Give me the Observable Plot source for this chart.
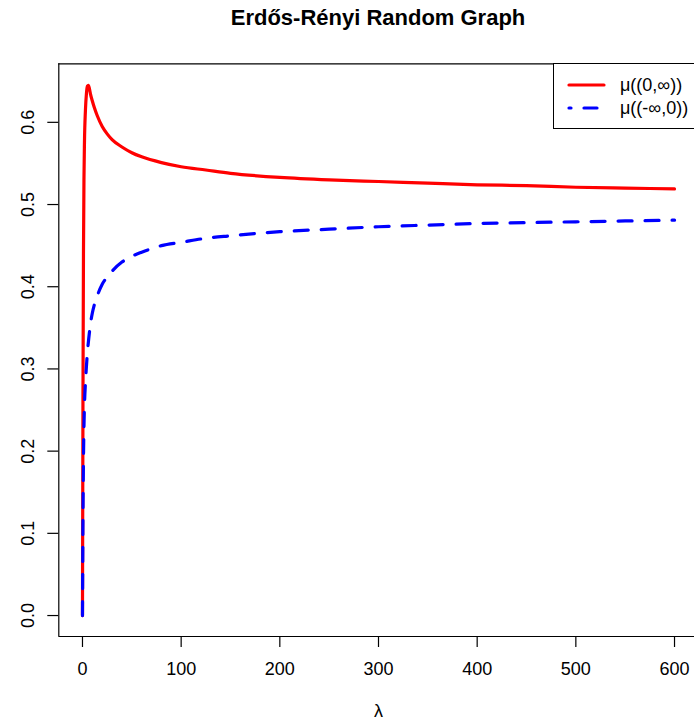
<!DOCTYPE html>
<html>
<head>
<meta charset="utf-8">
<script src="https://cdn.jsdelivr.net/npm/d3@7"></script>
<script src="https://cdn.jsdelivr.net/npm/@observablehq/plot@0.6"></script>
<style>
  html, body { margin: 0; padding: 0; background: #fff; overflow: hidden; }
  #wrap { position: relative; width: 694px; height: 725px; overflow: hidden; font-family: "Liberation Sans", Arial, sans-serif; }
  #title { margin: 0 0 0 58px; width: 640px; height: 40px; line-height: 36px; text-align: center; font-weight: bold; font-size: 22px; color: #000; }
  #legend { position: absolute; left: 553px; top: 63px; width: 160px; height: 66px; border: 1.2px solid #000; background: #fff; box-sizing: border-box; }
  #legend svg { position: absolute; left: 0; top: 0; }
</style>
</head>
<body>
<div id="wrap">
  <div id="title">Erdős-Rényi Random Graph</div>
  <div id="chart"></div>
  <div id="legend"></div>
</div>
<script>
// λ values and the two series
const lambda = [0,0.5,1,1.5,2,3,4,5,6,7,8,10,12,15,20,25,30,40,50,60,80,100,125,150,200,250,300,350,400,450,500,550,600];
const muPos  = [0,0.27,0.44,0.53,0.575,0.615,0.635,0.644,0.645,0.641,0.635,0.626,0.618,0.608,0.595,0.586,0.579,0.570,0.563,0.558,0.551,0.546,0.542,0.538,0.533,0.530,0.528,0.526,0.524,0.523,0.521,0.520,0.519];
const muNeg  = [0,0.12,0.19,0.23,0.255,0.283,0.303,0.320,0.333,0.344,0.354,0.368,0.378,0.389,0.403,0.412,0.419,0.430,0.437,0.442,0.450,0.454,0.459,0.462,0.467,0.470,0.473,0.475,0.477,0.478,0.479,0.480,0.481];
const xTicks = [0,100,200,300,400,500,600];
const yTicks = [0,0.1,0.2,0.3,0.4,0.5,0.6];
const seriesNames = ["μ((0,∞))", "μ((-∞,0))"];
const seriesColors = ["#FF0000", "#0000FF"];

const posData = lambda.map((l, i) => ({lambda: l, mu: muPos[i]}));
const negData = lambda.map((l, i) => ({lambda: l, mu: muNeg[i]}));

const W = 694, H = 685;
const mL = 58.3, mT = 23.3, mB = 89;
const xDomain = [-24, 624];
const yDomain = [-0.0255, 0.6712];

const chart = Plot.plot({
  width: W,
  height: H,
  marginLeft: mL,
  marginRight: 0,
  marginTop: mT,
  marginBottom: mB,
  style: {fontFamily: "'Liberation Sans', Arial, sans-serif", fontSize: "18px", color: "#000", background: "#fff", overflow: "hidden"},
  x: {domain: xDomain, range: [mL, mL + 639.4], axis: null},
  y: {domain: yDomain, range: [H - mB, mT], axis: null},
  marks: [
    Plot.axisX({ticks: xTicks, tickSize: 11, tickPadding: 15, tickFormat: d3.format("d"), stroke: "#000", strokeWidth: 1.2, fill: "#000", fontSize: 18, label: null}),
    Plot.axisY({ticks: yTicks, tickSize: 11, tickPadding: 14, tickRotate: -90, tickFormat: d3.format(".1f"), stroke: "#000", strokeWidth: 1.2, fill: "#000", fontSize: 18, label: null}),
    Plot.text(["λ"], {frameAnchor: "bottom", dy: 80, fontSize: 18, fill: "#000", x: () => (xDomain[0] + xDomain[1]) / 2}),
    Plot.ruleY([yDomain[0], yDomain[1]], {stroke: "#000", strokeWidth: 1.2}),
    Plot.ruleX([xDomain[0], xDomain[1]], {stroke: "#000", strokeWidth: 1.2}),
    Plot.line(posData, {x: "lambda", y: "mu", stroke: seriesColors[0], strokeWidth: 3.2, curve: "monotone-x", strokeLinecap: "round", strokeLinejoin: "round"}),
    Plot.line(negData, {x: "lambda", y: "mu", stroke: seriesColors[1], strokeWidth: 3.2, curve: "monotone-x", strokeDasharray: "14,13", strokeLinecap: "round", strokeLinejoin: "round"})
  ]
});
document.getElementById("chart").appendChild(chart);

// legend
const leg = d3.select("#legend").append("svg").attr("width", 160).attr("height", 66);
seriesNames.forEach((name, i) => {
  const cy = 21 + i * 23;
  leg.append("line").attr("x1", 15).attr("x2", 50).attr("y1", cy).attr("y2", cy)
    .attr("stroke", seriesColors[i]).attr("stroke-width", 3.2).attr("stroke-linecap", "round")
    .attr("stroke-dasharray", i === 1 ? "13,13" : null).attr("stroke-dashoffset", i === 1 ? 11 : null);
  leg.append("text").attr("x", 66).attr("y", cy).attr("dy", "0.35em")
    .attr("font-family", "'Liberation Sans', Arial, sans-serif").attr("font-size", 18).attr("fill", "#000")
    .text(name);
});
</script>
</body>
</html>
